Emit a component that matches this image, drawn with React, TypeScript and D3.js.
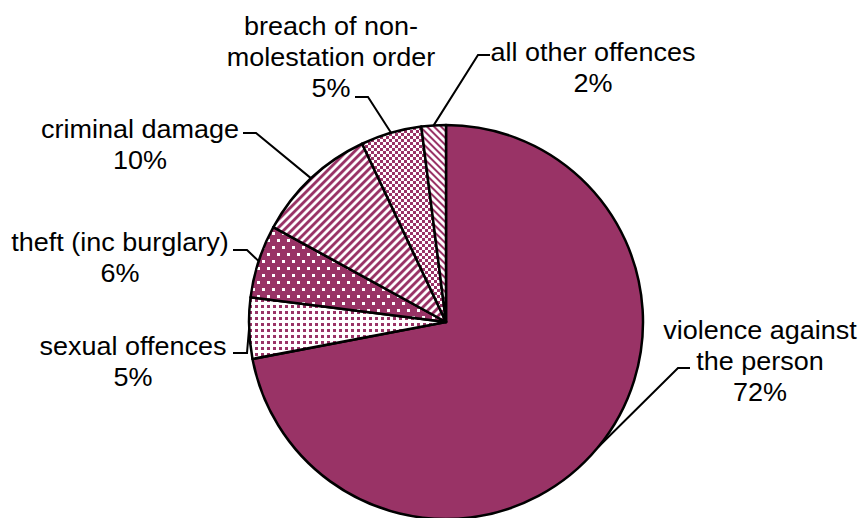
import React from "react";
import * as d3 from "d3";

const categories = [
  "violence against the person",
  "sexual offences",
  "theft (inc burglary)",
  "criminal damage",
  "breach of non-molestation order",
  "all other offences",
];
const values = [72, 5, 6, 10, 5, 2];
const labelLines = [
  ["violence against", "the person"],
  ["sexual offences"],
  ["theft (inc burglary)"],
  ["criminal damage"],
  ["breach of non-", "molestation order"],
  ["all other offences"],
];
const fills = ["url(#solid)", "url(#pDots)", "url(#pStagger)", "url(#pWide)", "url(#pCheck)", "url(#pNarrow)"];

// layout (label anchors and leader elbows)
const W = 862, H = 518;
const CX = 446, CY = 322, R = 197;
const labelLayout = [
  { x: 760, y: 339, elbow: [678, 368], end: [690, 368] },
  { x: 133, y: 355, elbow: [247, 353], end: [233, 353] },
  { x: 120, y: 251, elbow: [247, 250], end: [233, 250] },
  { x: 140, y: 138, elbow: [256, 133], end: [243, 133] },
  { x: 331, y: 35, elbow: [368, 97], end: [355, 97] },
  { x: 593, y: 61, elbow: [478, 55], end: [490, 55] },
];
const LINE_H = 31;
const PLUM = "#993366";

export default function App() {
  const pie = d3.pie<number>().sort(null).value((d) => d).startAngle(0).endAngle(2 * Math.PI);
  const arcs = pie(values);
  const arc = d3.arc<d3.PieArcDatum<number>>().innerRadius(0).outerRadius(R);

  return (
    <svg
      width={W}
      height={H}
      style={{ position: "absolute", left: 0, top: 0, background: "#fff" }}
      fontFamily="'Liberation Sans', Arial, sans-serif"
    >
      <defs>
        <pattern id="solid" patternUnits="userSpaceOnUse" width="4" height="4">
          <rect width="4" height="4" fill={PLUM} />
        </pattern>
        <pattern id="pDots" patternUnits="userSpaceOnUse" width="6" height="6">
          <rect width="6" height="6" fill="#fff" />
          <rect x="1" y="1" width="3" height="3" fill={PLUM} />
        </pattern>
        <pattern id="pStagger" patternUnits="userSpaceOnUse" width="10" height="14">
          <rect width="10" height="14" fill={PLUM} />
          <rect x="1" y="1" width="3" height="3" fill="#fff" />
          <rect x="6" y="8" width="3" height="3" fill="#fff" />
        </pattern>
        <pattern id="pWide" patternUnits="userSpaceOnUse" width="5.657" height="10" patternTransform="rotate(45)">
          <rect width="5.657" height="10" fill="#fff" />
          <rect width="2.9" height="10" fill={PLUM} />
        </pattern>
        <pattern id="pCheck" patternUnits="userSpaceOnUse" width="6" height="6">
          <rect width="6" height="6" fill="#fff" />
          <rect x="0" y="0" width="3" height="3" fill={PLUM} />
          <rect x="3" y="3" width="3" height="3" fill={PLUM} />
        </pattern>
        <pattern id="pNarrow" patternUnits="userSpaceOnUse" width="4.95" height="10" patternTransform="rotate(-45)">
          <rect width="4.95" height="10" fill="#fff" />
          <rect width="2" height="10" fill={PLUM} />
        </pattern>
      </defs>
      <rect width={W} height={H} fill="#fff" />
      <g transform={`translate(${CX},${CY})`}>
        {arcs.map((a, i) => (
          <path key={categories[i]} d={arc(a) || ""} fill={fills[i]} stroke="#000" strokeWidth={2.5} strokeLinejoin="round" />
        ))}
      </g>
      {arcs.map((a, i) => {
        const mid = (a.startAngle + a.endAngle) / 2;
        const px = CX + R * Math.sin(mid);
        const py = CY - R * Math.cos(mid);
        const L = labelLayout[i];
        const lines = [...labelLines[i], `${values[i]}%`];
        return (
          <g key={"lab" + i}>
            <polyline
              points={`${px},${py} ${L.elbow[0]},${L.elbow[1]} ${L.end[0]},${L.end[1]}`}
              fill="none"
              stroke="#000"
              strokeWidth={2}
            />
            {lines.map((t, j) => (
              <text
                key={j}
                transform={`translate(${L.x},${L.y + j * LINE_H}) scale(1.08,1)`}
                textAnchor="middle"
                fontSize={25}
                fill="#000"
              >
                {t}
              </text>
            ))}
          </g>
        );
      })}
    </svg>
  );
}
